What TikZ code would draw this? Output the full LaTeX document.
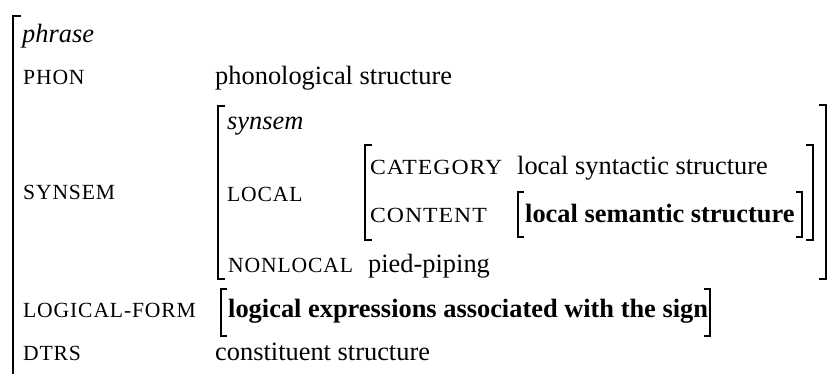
\documentclass[tikz,border=0pt]{standalone}
\usepackage{fontspec}
\setmainfont{Liberation Serif}
% attribute names: fake small capitals, values: text size
\newcommand\featfont{\fontsize{21.6}{24}\selectfont\addfontfeatures{LetterSpace=4}}
\newcommand\valfont{\fontsize{26.4}{30}\selectfont}
\newcommand\wide[1]{\scalebox{1.1}[1]{#1}}
\begin{document}
\begin{tikzpicture}[x=1pt,y=-1pt,
  feat/.style={anchor=base west,inner sep=0pt,font=\featfont},
  val/.style={anchor=base west,inner sep=0pt,font=\valfont},
  bigbr/.style={line width=1.9pt},
  midbr/.style={line width=1.7pt},
  smallbr/.style={line width=1.2pt}]
\useasboundingbox (0,0) rectangle (829,374);

% outermost matrix (phrase); its lower end runs off the page
\draw[bigbr] (21,16) -- (13,16) -- (13,374);
\node[val] (phrase) at (22,43) {\itshape phrase};
\node[feat] (phon) at (23,85) {PHON};
\node[val] (phonv) at (215,85) {phonological structure};

% SYNSEM value
\node[feat] (synsemf) at (23,200) {SYNSEM};
\draw[midbr] (225,106) -- (218,106) -- (218,279) -- (225,279);
\draw[midbr] (819,105) -- (826,105) -- (826,279) -- (819,279);
\node[val] (synsem) at (227,130) {\itshape synsem};
\node[feat] (local) at (227,201) {LOCAL};

% LOCAL value
\draw[midbr] (372,145) -- (365,145) -- (365,240) -- (372,240);
\draw[midbr] (806,145) -- (813,145) -- (813,240) -- (806,240);
\node[feat] (cat) at (370,175) {\wide{CATEGORY}};
\node[val] (catv) at (517,175) {local syntactic structure};
\node[feat] (cont) at (370,222) {\wide{CONTENT}};
\draw[smallbr] (524,192) -- (518,192) -- (518,237) -- (524,237);
\draw[smallbr] (796,192) -- (802,192) -- (802,237) -- (796,237);
\node[val] (contv) at (525,222) {\bfseries local semantic structure};

\node[feat] (nonlocal) at (228,272) {NONLOCAL};
\node[val] (nonlocalv) at (368,272) {pied-piping};

% LOGICAL-FORM
\node[feat] (lf) at (23,317) {LOGICAL-FORM};
\draw[smallbr] (227,289) -- (221,289) -- (221,336) -- (227,336);
\draw[smallbr] (704,289) -- (710,289) -- (710,336) -- (704,336);
\node[val] (lfv) at (228,317) {\bfseries logical expressions associated with the sign};

% DTRS
\node[feat] (dtrs) at (23,360) {DTRS};
\node[val] (dtrsv) at (215,360) {constituent structure};
\end{tikzpicture}
\end{document}
